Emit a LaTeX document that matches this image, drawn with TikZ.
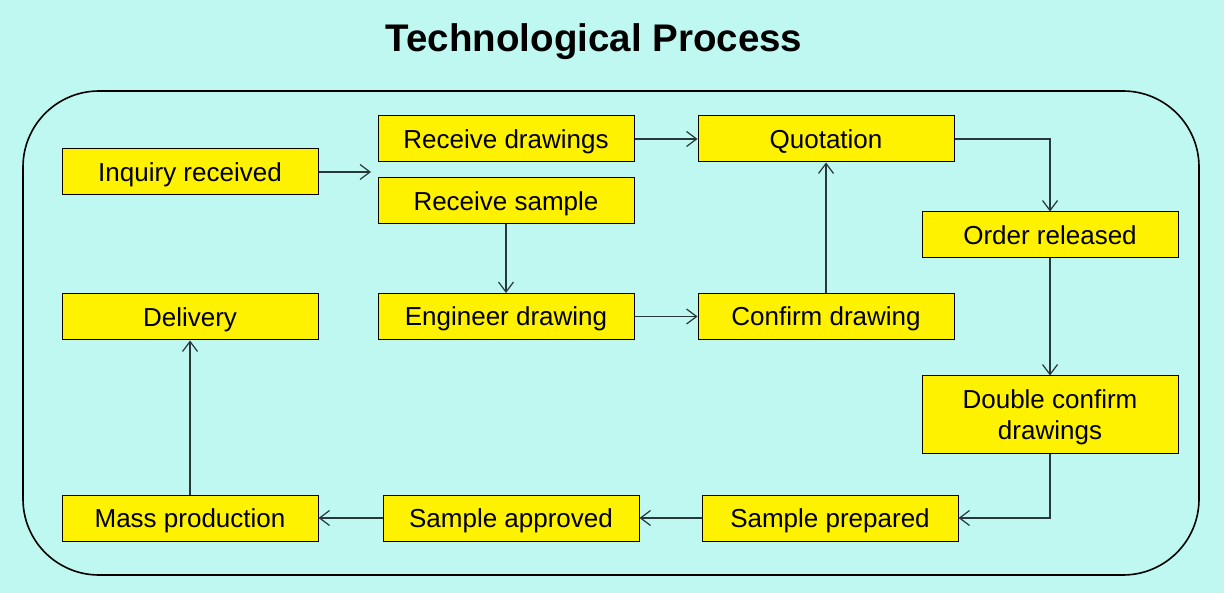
\documentclass[tikz,border=0pt]{standalone}
\usepackage{fontspec}
\setmainfont{Liberation Sans}
\usetikzlibrary{arrows.meta}
\definecolor{bgcol}{RGB}{190,248,241}
\definecolor{linecol}{RGB}{40,56,58}
\begin{document}
\begin{tikzpicture}[x=1pt,y=-1pt,
  stepbox/.style={draw=black, line width=1pt, fill=yellow, minimum width=256pt, minimum height=46pt, inner sep=0pt, align=center, text height=22pt, text depth=3pt, font=\fontsize{26}{31}\selectfont},
  conn/.style={draw=linecol, line width=1.3pt, -{Straight Barb[length=10pt,width=15pt,line width=1.2pt]}}]
\fill[bgcol] (0,0) rectangle (1224,593);
\useasboundingbox (0,0) rectangle (1224,593);
\node[font=\bfseries\fontsize{38.5}{44}\selectfont] (title) at (594,42) {Technological Process};
\draw[black, line width=1.6pt, rounded corners=76pt] (23,91) rectangle (1199,575);
\node[stepbox] (inq) at (190,172) {Inquiry received};
\node[stepbox] (rdr) at (506,139) {Receive drawings};
\node[stepbox] (rsa) at (506,201) {Receive sample};
\node[stepbox] (quo) at (826,139) {Quotation};
\node[stepbox] (ord) at (1050,235) {Order released};
\node[stepbox] (del) at (190,317) {Delivery};
\node[stepbox] (eng) at (506,316.5) {Engineer drawing};
\node[stepbox] (cfd) at (826,316.5) {Confirm drawing};
\node[stepbox, minimum height=78pt, text height=52.5pt, text depth=3.5pt] (dbl) at (1050,415) {Double confirm\\drawings};
\node[stepbox] (spp) at (830,518) {Sample prepared};
\node[stepbox] (spa) at (511,518) {Sample approved};
\node[stepbox] (mas) at (190,518) {Mass production};
\coordinate (inqend) at (371,172);
\draw[conn] (inq.east) -- (inqend);
\draw[conn] (rdr.east) -- (quo.west);
\draw[conn] (rsa.south) -- (eng.north);
\draw[conn] (eng.east) -- (cfd.west);
\draw[conn] (cfd.north) -- (quo.south);
\draw[conn] (quo.east) -| (ord.north);
\draw[conn] (ord.south) -- (dbl.north);
\draw[conn] (dbl.south) |- (spp.east);
\draw[conn] (spp.west) -- (spa.east);
\draw[conn] (spa.west) -- (mas.east);
\draw[conn] (mas.north) -- (del.south);
\end{tikzpicture}
\end{document}
